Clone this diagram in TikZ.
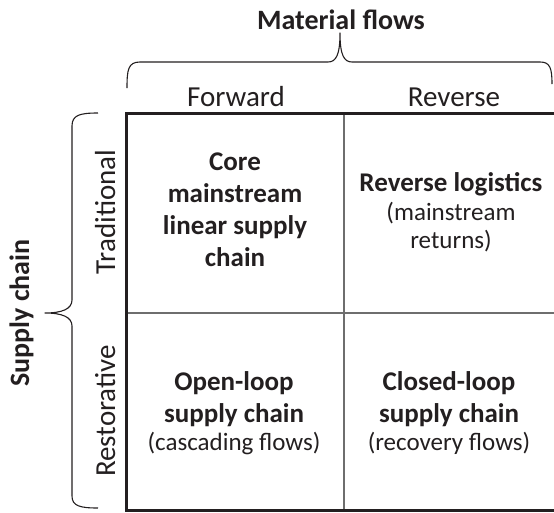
\documentclass[tikz,border=0pt]{standalone}
\usepackage{fontspec}
\setmainfont{Carlito}
\definecolor{ink}{RGB}{35,31,32}
\definecolor{inner}{RGB}{110,110,110}
\begin{document}
\begin{tikzpicture}[x=1pt,y=-1pt,
  outerline/.style={draw=ink,line width=3pt,line cap=rect},
  innerline/.style={draw=inner,line width=1.8pt},
  bracestyle/.style={draw=ink,line width=1.1pt,line join=round},
  axislabel/.style={text=ink,font=\fontsize{29}{34}\selectfont,inner sep=0pt},
  axisbold/.style={text=ink,font=\fontsize{28}{34}\selectfont\bfseries,inner sep=0pt},
  celltext/.style={text=ink,align=center,inner sep=0pt,font=\fontsize{27}{32}\selectfont\bfseries},
  subtext/.style={font=\fontsize{25}{29}\selectfont\mdseries},
]
\useasboundingbox (0,0) rectangle (554,512);
% grid
\draw[innerline] (344,113) -- (344,510);
\draw[innerline] (126,313) -- (556,313);
\draw[outerline] (556,113) -- (126,113) -- (126,510) -- (556,510);
% top brace
\coordinate (tbL) at (127,88);
\coordinate (tbR) at (552,84);
\coordinate (tbTip) at (340,33);
\draw[bracestyle] (tbL) .. controls (127,70) and (128,62) .. (140,62) -- (328,62)
  .. controls (336,62) and (340,55) .. (tbTip)
  .. controls (340,55) and (344,62) .. (352,62) -- (540,62)
  .. controls (550,62) and (552,68) .. (tbR);
% left brace
\coordinate (lbT) at (98,113);
\coordinate (lbB) at (98,508);
\coordinate (lbTip) at (45,313);
\draw[bracestyle] (lbT) .. controls (80,113) and (72,115) .. (72,126) -- (72,300)
  .. controls (72,309) and (62,313) .. (lbTip)
  .. controls (62,313) and (72,317) .. (72,326) -- (72,496)
  .. controls (72,506) and (80,508) .. (lbB);
% axis labels
\node[axisbold,anchor=base] (mf) at (341,29) {Material flows};
\node[axislabel,anchor=base] (fw) at (236,106) {Forward};
\node[axislabel,anchor=base] (rv) at (454,106) {Reverse};
\node[axisbold,anchor=base,rotate=90] (sc) at (29,313) {Supply chain};
\node[axislabel,anchor=base,rotate=90] (trad) at (115,212) {Traditional};
\node[axislabel,anchor=base,rotate=90] (rest) at (115,411) {Restorative};
% cells
\node[celltext] (tl) at (235,210) {Core\\mainstream\\linear supply\\chain};
\node[celltext] (tr) at (451,212) {Reverse logistics\\[-3pt]{\fontsize{25}{29}\selectfont\mdseries (mainstream}\\[-4pt]{\fontsize{25}{29}\selectfont\mdseries returns)}};
\node[celltext] (bl) at (234,413) {Open-loop\\supply chain\\[-4pt]{\fontsize{25}{29}\selectfont\mdseries (cascading flows)}};
\node[celltext] (br) at (449,413) {Closed-loop\\supply chain\\[-4pt]{\fontsize{25}{29}\selectfont\mdseries (recovery flows)}};
\end{tikzpicture}
\end{document}
